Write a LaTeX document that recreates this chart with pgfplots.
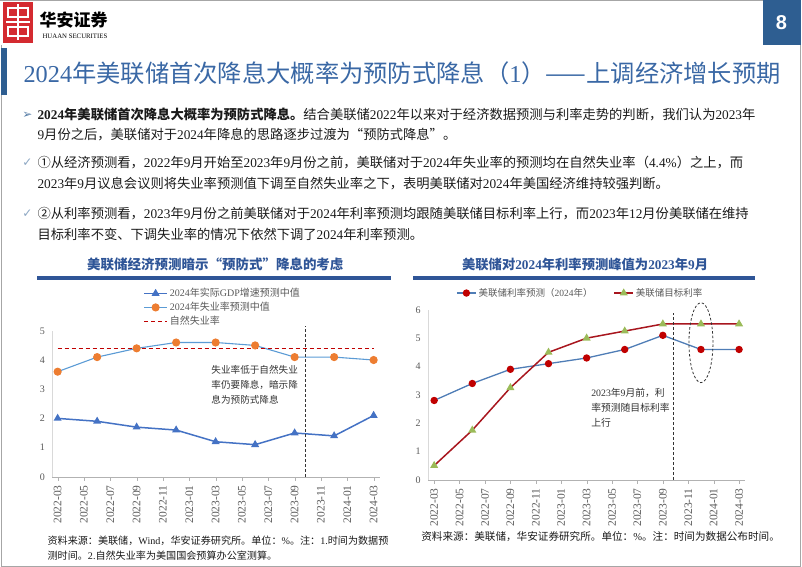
\documentclass[border=0pt]{standalone}
\usepackage{fontspec}
\usepackage{pgfplots}
\pgfplotsset{compat=1.18}
\setmainfont{Liberation Serif}
\newfontfamily\cjkfont{Noto Sans CJK SC}
\newfontfamily\symfont{DejaVu Sans}
\newfontfamily\sansfont{Liberation Sans}

% CJK characters switch to the CJK font automatically
\XeTeXinterchartokenstate=1
\newXeTeXintercharclass\cjkclass
\newcount\cc
\def\setcjk#1#2{\cc=#1\relax\loop\XeTeXcharclass\cc=\cjkclass\ifnum\cc<#2\advance\cc by 1\repeat}
\setcjk{"4E00}{"9FFF}
\setcjk{"3000}{"303F}
\setcjk{"FF00}{"FFEF}
\setcjk{"2460}{"2473}
\XeTeXcharclass"2014=\cjkclass
\XeTeXcharclass"201C=\cjkclass
\XeTeXcharclass"201D=\cjkclass
\XeTeXinterchartoks 0 \cjkclass={\cjkfont}
\XeTeXinterchartoks 4095 \cjkclass={\cjkfont}
\XeTeXinterchartoks \cjkclass 0={\rmfamily}
\XeTeXinterchartoks \cjkclass 4095={\rmfamily}

\definecolor{hablue}{HTML}{2E5E91}
\definecolor{ttlblue}{HTML}{3A68A5}
\definecolor{chblue}{HTML}{2F5597}
\definecolor{gdpblue}{HTML}{4472C4}
\definecolor{unline}{HTML}{5B9BD5}
\definecolor{unmark}{HTML}{ED7D31}
\definecolor{natred}{HTML}{C00000}
\definecolor{fcline}{HTML}{4F7DB6}
\definecolor{fcmark}{HTML}{C00000}
\definecolor{tgline}{HTML}{A8161E}
\definecolor{tgmark}{HTML}{9BBB59}
\definecolor{txtgray}{HTML}{595959}
\definecolor{bodytxt}{HTML}{1A1A1A}
\definecolor{logored}{HTML}{D42A30}
\definecolor{frame}{HTML}{A6A6A6}

\newcommand{\fs}[2]{\fontsize{#1bp}{#2bp}\selectfont}

\pgfplotsset{
  slide/.style={
    scale only axis, clip=false,
    axis x line*=bottom, axis y line*=left,
    x axis line style={draw=gray!60,-}, y axis line style={draw=gray!30,-},
    xtick={0,2,...,24},
    xticklabels={2022-03,2022-05,2022-07,2022-09,2022-11,2023-01,2023-03,2023-05,2023-07,2023-09,2023-11,2024-01,2024-03},
    every x tick label/.append style={rotate=90, anchor=east, font=\fs{11.5}{12}, text=txtgray},
    xticklabel shift=1bp,
    every y tick label/.append style={font=\fs{10}{11}, text=txtgray},
    /pgf/number format/assume math mode=true,
    major tick length=4bp, tick align=outside,
    xtick style={draw=gray!60}, ytick style={draw=none},
  }
}

\begin{document}
\begin{tikzpicture}[x=1bp,y=1bp]
\path (0,0) rectangle (802,567);

% frame and header
\draw[frame, line width=0.8bp] (0,566.2) -- (763,566.2);
\draw[frame, line width=0.8bp] (0.8,522) -- (0.8,0.8) -- (800.5,0.8) -- (800.5,522);
\fill[logored] (3,524) rectangle (33,565);
\draw[white, line width=1.8bp] (8,550) rectangle (28,559) (8,531) rectangle (28,540)
  (18,527) -- (18,563) (6,545) -- (30,545);
\node[anchor=west, inner sep=0pt] at (39,547) {\cjkfont\bfseries\fs{17}{18}华安证券};
\node[anchor=west, inner sep=0pt] at (42,531) {\fs{6.8}{7}HUAAN SECURITIES};
\fill[hablue] (763,522) rectangle (800.5,567);
\node[white, inner sep=0pt] at (781.5,544.5) {\sansfont\bfseries\fs{20}{22}8};
\fill[hablue] (0.5,472) rectangle (7,519);
\node[anchor=west, inner sep=0pt, text=ttlblue] at (23,494) {\fs{24.3}{26}2024年美联储首次降息大概率为预防式降息（1）——上调经济增长预期};

% body text
\node[inner sep=0pt, text=hablue!80] at (27,452) {\symfont\fs{12}{13}➢};
\node[inner sep=0pt, text=hablue!55] at (27,404) {\symfont\fs{12}{13}✓};
\node[inner sep=0pt, text=hablue!55] at (27,353) {\symfont\fs{12}{13}✓};
\begin{scope}[every node/.style={anchor=west, inner sep=0pt, text=bodytxt, font=\fs{13.3}{15}}]
\node at (37,452) {{\bfseries 2024年美联储首次降息大概率为预防式降息。}结合美联储2022年以来对于经济数据预测与利率走势的判断，我们认为2023年};
\node at (37,432) {9月份之后，美联储对于2024年降息的思路逐步过渡为“预防式降息”。};
\node at (37,404) {①从经济预测看，2022年9月开始至2023年9月份之前，美联储对于2024年失业率的预测均在自然失业率（4.4\%）之上，而};
\node at (37,383) {2023年9月议息会议则将失业率预测值下调至自然失业率之下，表明美联储对2024年美国经济维持较强判断。};
\node at (37,353) {②从利率预测看，2023年9月份之前美联储对于2024年利率预测均跟随美联储目标利率上行，而2023年12月份美联储在维持};
\node at (37,332) {目标利率不变、下调失业率的情况下依然下调了2024年利率预测。};
\end{scope}

% chart titles
\node[text=chblue, inner sep=0pt] at (215,302) {\bfseries\fs{13.5}{15}美联储经济预测暗示“预防式”降息的考虑};
\fill[chblue] (37,287) rectangle (391,291);
\node[text=chblue, inner sep=0pt] at (585,302) {\bfseries\fs{13.3}{15}美联储对2024年利率预测峰值为2023年9月};
\fill[chblue] (413,287) rectangle (755,291);

% left chart
\begin{axis}[slide,
  at={(52bp,90bp)}, anchor=south west, width=328bp, height=146bp,
  xmin=-0.4, xmax=24.5, ymin=0, ymax=5, ytick={0,...,5},
  legend style={at={(0.277,1.305)}, anchor=north west, draw=none, fill=none,
    font=\fs{10}{11}, text=txtgray, row sep=0bp, inner sep=0pt, cells={anchor=west}},
  legend image code/.code={\draw[mark repeat=2,mark phase=2] plot coordinates {(0bp,0bp)(11.5bp,0bp)(23bp,0bp)};},
]
\addplot[gdpblue, line width=1.5bp, mark=triangle*, mark size=3.2bp, mark options={fill=gdpblue, solid}]
  coordinates {(0,2.0)(3,1.9)(6,1.7)(9,1.6)(12,1.2)(15,1.1)(18,1.5)(21,1.4)(24,2.1)};
\addplot[unline, line width=1.1bp, mark=*, mark size=3.5bp, mark options={fill=unmark, draw=unmark, solid}]
  coordinates {(0,3.6)(3,4.1)(6,4.4)(9,4.6)(12,4.6)(15,4.5)(18,4.1)(21,4.1)(24,4.0)};
\addplot[natred, line width=1.5bp, dash pattern=on 4bp off 3bp]
  coordinates {(0,4.4)(24,4.4)};
\legend{2024年实际GDP增速预测中值,2024年失业率预测中值,自然失业率}
\draw[black!80, line width=1bp, dash pattern=on 3bp off 2bp] (axis cs:18.8,0) -- (axis cs:18.8,5.15);
\end{axis}
\begin{scope}[every node/.style={anchor=west, inner sep=0pt, text=bodytxt!90, font=\fs{9.6}{11}}]
\node at (211,197) {失业率低于自然失业};
\node at (211,182) {率仍要降息，暗示降};
\node at (211,167) {息为预防式降息};
\end{scope}

% right chart
\begin{axis}[slide,
  at={(428bp,87bp)}, anchor=south west, width=317bp, height=170bp,
  xmin=-0.47, xmax=24.47, ymin=0, ymax=6, ytick={0,...,6},
  legend style={at={(0.088,1.14)}, anchor=north west, draw=none, fill=none,
    font=\fs{9.5}{11}, text=txtgray, inner sep=0pt, legend columns=2,
    /tikz/every even column/.append style={column sep=19bp}, cells={anchor=west}},
  legend image code/.code={\draw[mark repeat=2,mark phase=2] plot coordinates {(0bp,0bp)(9.5bp,0bp)(19bp,0bp)};},
]
\addplot[fcline, line width=1.3bp, mark=*, mark size=3bp, mark options={fill=fcmark, draw=fcmark}]
  coordinates {(0,2.8)(3,3.4)(6,3.9)(9,4.1)(12,4.3)(15,4.6)(18,5.1)(21,4.6)(24,4.6)};
\addplot[tgline, line width=1.5bp, mark=triangle*, mark size=3.2bp, mark options={fill=tgmark, draw=tgmark}]
  coordinates {(0,0.5)(3,1.75)(6,3.25)(9,4.5)(12,5.0)(15,5.25)(18,5.5)(21,5.5)(24,5.5)};
\legend{美联储利率预测（2024年）,美联储目标利率}
\draw[black!80, line width=1bp, dash pattern=on 3bp off 2bp] (axis cs:18.8,0) -- (axis cs:18.8,5.9);
\draw[black!80, line width=0.8bp, dash pattern=on 2.5bp off 2bp] (axis cs:21,4.84) ellipse [x radius=12bp, y radius=40bp];
\end{axis}
\begin{scope}[every node/.style={anchor=west, inner sep=0pt, text=bodytxt!90, font=\fs{9.8}{11}}]
\node at (591,174) {2023年9月前，利};
\node at (591,159) {率预测随目标利率};
\node at (591,144) {上行};
\end{scope}

% sources
\begin{scope}[every node/.style={anchor=west, inner sep=0pt, text=bodytxt}]
\node[font=\fs{10.1}{11}] at (47,26) {资料来源：美联储，Wind，华安证券研究所。单位：\%。注：1.时间为数据预};
\node[font=\fs{10.1}{11}] at (47,11) {测时间。2.自然失业率为美国国会预算办公室测算。};
\node[font=\fs{10.6}{12}] at (421,30) {资料来源：美联储，华安证券研究所。单位：\%。注：时间为数据公布时间。};
\end{scope}
\end{tikzpicture}
\end{document}
